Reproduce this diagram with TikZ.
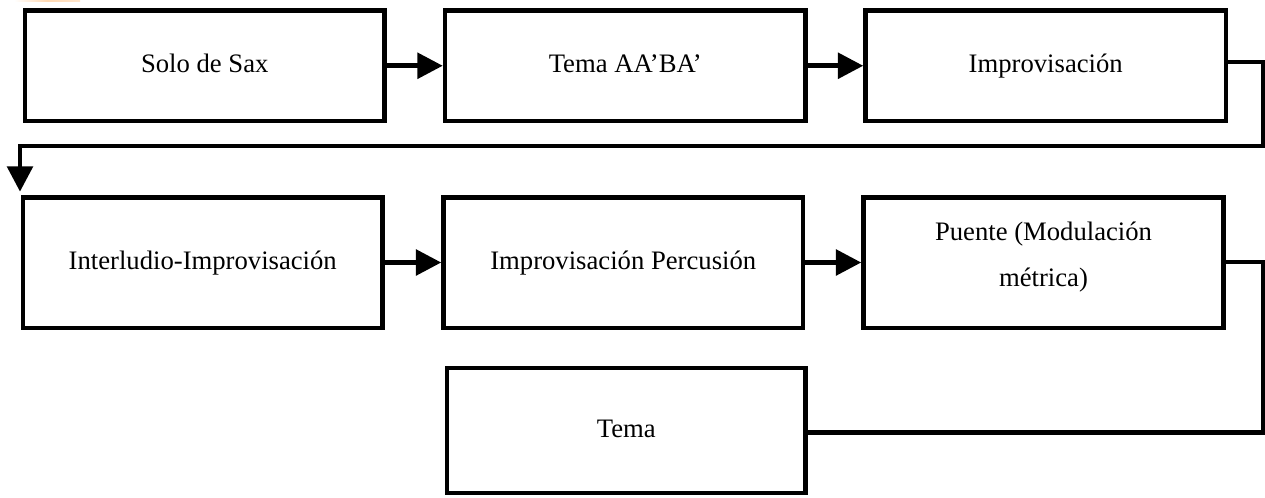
\documentclass[tikz,border=0pt]{standalone}
\usepackage{fontspec}
\setmainfont{Liberation Serif}
\usetikzlibrary{arrows.meta}
\begin{document}
\begin{tikzpicture}[x=0.75pt,y=-0.75pt,
  box/.style={draw=black, line width=3.375pt, inner sep=0pt, align=center,
    text height=14pt, text depth=4pt,
    font=\fontsize{20}{34.5}\selectfont},
  rowa/.style={box, minimum height=82.875pt},
  rowb/.style={box, minimum height=97.875pt},
  conn/.style={line width=3.5pt},
  arr/.style={conn, -{Triangle[length=19pt,width=19pt]}},
  lbl/.style={inner sep=0pt, align=center, font=\fontsize{20}{34.5}\selectfont}]
\fill[white] (0,0) rectangle (1265,497);
\useasboundingbox (0,0) rectangle (1265,497);
\shade[left color=white, right color=orange!20, middle color=orange!30] (14,0) rectangle (80,1.5);
% row 1
\node[rowa, minimum width=269.625pt] (b1) at (204.75,65.75) {Solo de Sax};
\node[rowa, minimum width=270.375pt] (b2) at (625.25,65.75) {Tema AA’BA’};
\node[rowa, minimum width=270.375pt] (b3) at (1045.75,65.75) {Improvisación};
% row 2
\node[rowb, minimum width=269.625pt] (b4) at (202.75,262.5) {Interludio-Improvisación};
\node[rowb, minimum width=269.625pt] (b5) at (623.25,262.5) {Improvisación Percusión};
\node[rowb, minimum width=270pt] (b6) at (1043.5,262.5) {};
\node[lbl] (t6) at (1043.5,257) {Puente (Modulación\\métrica)};
% row 3
\node[box, minimum width=268.875pt, minimum height=93.75pt] (b7) at (626.25,430.5) {Tema};
% connectors
\draw[arr] (b1.east) -- (b2.west);
\draw[arr] (b2.east) -- (b3.west);
\draw[arr] (b4.east) -- (b5.west);
\draw[arr] (b5.east) -- (b6.west);
\coordinate (c1) at (1263,62);
\coordinate (c2) at (1263,146);
\coordinate (c3) at (20,146);
\draw[arr, shorten >=2.5pt] (b3.east |- c1) -- (c1) -- (c2) -- (c3) -- (c3 |- b4.north);
\coordinate (d1) at (1263,262);
\coordinate (d2) at (1263,432.5);
\draw[conn] (b6.east |- d1) -- (d1) -- (d2) -- (b7.east |- d2);
\end{tikzpicture}
\end{document}
